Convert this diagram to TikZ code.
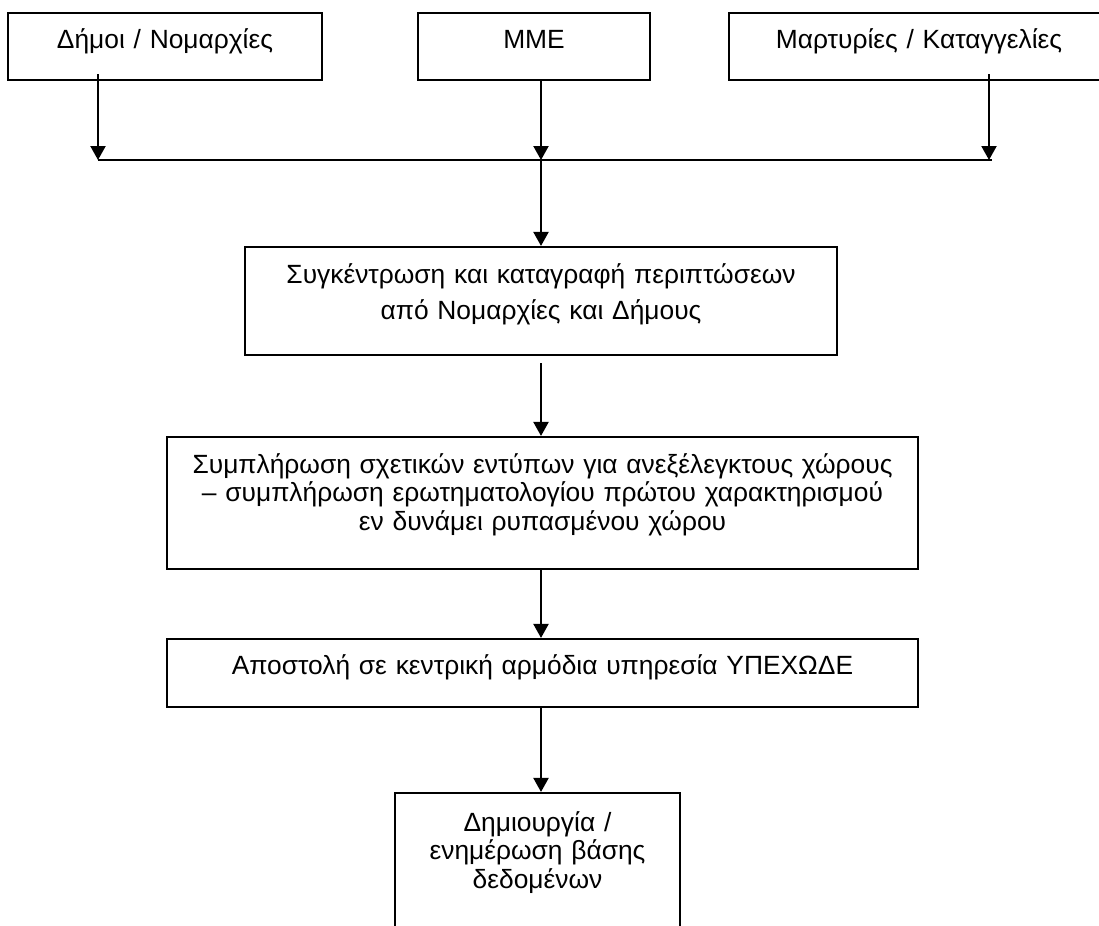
\documentclass[tikz,border=0pt]{standalone}
\usepackage{fontspec}
\setmainfont{Liberation Sans}
\usetikzlibrary{arrows.meta,positioning,calc}
\newlength{\pxu}
\setlength{\pxu}{0.02cm}

\begin{document}
\begin{tikzpicture}[x=\pxu, y=-\pxu]
\tikzstyle{box} = [shape=rectangle, draw=black, line width=1.2pt, inner sep=0pt, align=center, font=\fontsize{15}{16.5}\selectfont];
\tikzstyle{topbox} = [box, text height=36\pxu, text depth=31\pxu];
\tikzstyle{link} = [-{Triangle[length=0.28cm, width=0.3cm]}, line width=1.2pt];

\path[use as bounding box, clip] (0,0) rectangle (1099,926);
\fill[white] (0,0) rectangle (1099,926);

% sources
\node[topbox, text width=314\pxu](Dimoi) at (165,46.5) {Δήμοι / Νομαρχίες};
\node[topbox, text width=232\pxu](MME) at (534,46.5) {MME};
\node[topbox, text width=380\pxu](Martyries) at (919,46.5) {Μαρτυρίες / Καταγγελίες};

\coordinate (HubL) at (98,160);
\coordinate (HubM) at (541,160);
\coordinate (HubR) at (989,160);

% steps
\node[box, text width=592\pxu, text height=36\pxu, text depth=72\pxu, font=\fontsize{15}{20.5}\selectfont](Collect) at (541,301)
    {Συγκέντρωση και καταγραφή περιπτώσεων\\από Νομαρχίες και Δήμους};
\node[box, text width=751\pxu, text height=36\pxu, text depth=96\pxu](Fill) at (542.5,503)
    {Συμπλήρωση σχετικών εντύπων για ανεξέλεγκτους χώρους\\– συμπλήρωση ερωτηματολογίου πρώτου χαρακτηρισμού\\εν δυνάμει ρυπασμένου χώρου};
\node[box, text width=751\pxu, text height=35\pxu, text depth=33\pxu](Send) at (542.5,673)
    {Αποστολή σε κεντρική αρμόδια υπηρεσία ΥΠΕΧΩΔΕ};
\node[box, text width=285\pxu, text height=38\pxu, text depth=129\pxu](Database) at (537.5,876.5)
    {Δημιουργία /\\ενημέρωση βάσης\\δεδομένων};

\path[link]
    ($(Dimoi.south -| HubL)+(0,-7)$) edge (HubL)
    (MME.south -| HubM) edge (HubM)
    ($(Martyries.south -| HubR)+(0,-7)$) edge (HubR)
;
\draw[line width=1.2pt] (HubL) -- ($(HubR)+(3,0)$);
\path[link]
    (HubM) edge (Collect.north -| HubM)
    ($(Collect.south -| HubM)+(0,7)$) edge (Fill.north -| HubM)
    (Fill.south -| HubM) edge (Send.north -| HubM)
    (Send.south -| HubM) edge (Database.north -| HubM)
;
\end{tikzpicture}
\end{document}
